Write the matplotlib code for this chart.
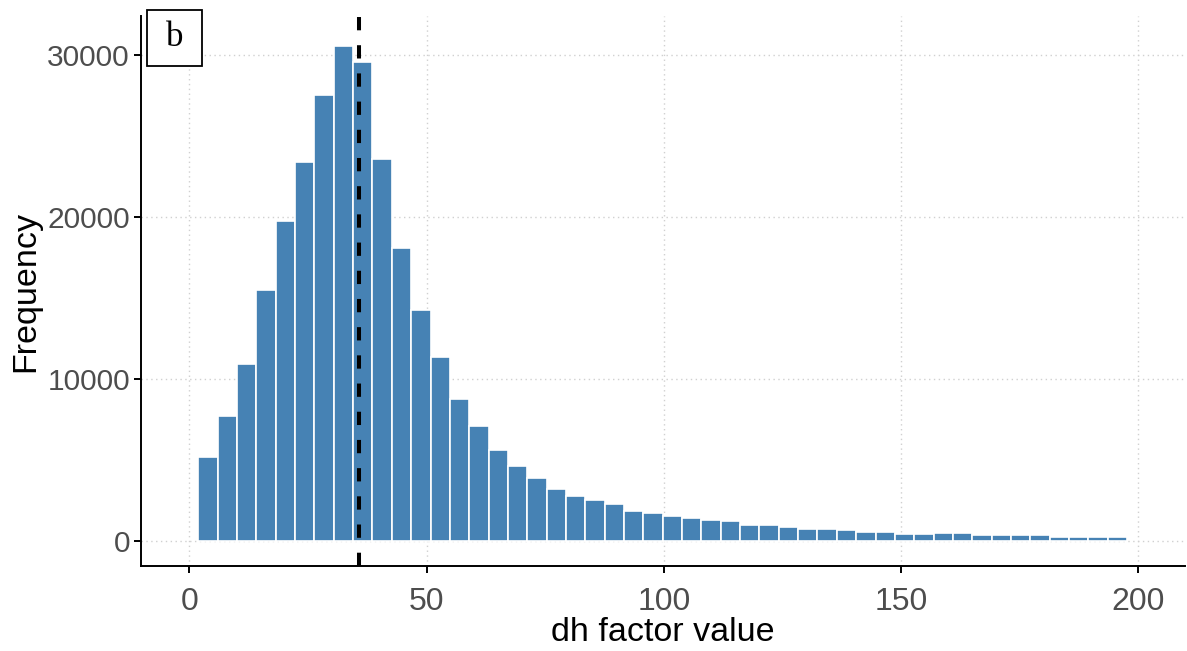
import numpy as np
import matplotlib
matplotlib.use("Agg")
import matplotlib.pyplot as plt
from matplotlib.patches import Rectangle

# Histogram of dh factor values (48 equal-width bins)
bin_start = 1.9
bin_width = 4.077
counts = [5200, 7700, 10950, 15480, 19720, 23380, 27500, 30520, 29560, 23580,
          18070, 14280, 11380, 8770, 7120, 5620, 4650, 3890, 3240, 2810,
          2510, 2280, 1850, 1750, 1520, 1400, 1300, 1210, 970, 970,
          890, 770, 770, 660, 560, 560, 460, 460, 480, 480,
          360, 370, 370, 380, 280, 270, 270, 270]
mean_value = 35.8

x_ticks = [0, 50, 100, 150, 200]
y_ticks = [0, 10000, 20000, 30000]
panel_tag = "b"

plt.rcParams["font.family"] = ["Liberation Sans", "DejaVu Sans"]

fig = plt.figure(figsize=(11.87, 6.51), dpi=100)
ax = fig.add_axes([141 / 1187, 85 / 651, 1044 / 1187, 550 / 651])

edges = bin_start + bin_width * np.arange(len(counts))
ax.bar(edges, counts, width=bin_width, align="edge", color="#4682B4",
       edgecolor="white", linewidth=1.2, zorder=2)

ax.axvline(mean_value, color="black", linewidth=2.9,
           linestyle=(0, (3.3, 3.7)), zorder=3)

ax.set_xlim(-10.18, 209.8)
ax.set_ylim(-1540, 32400)
ax.set_xticks(x_ticks)
ax.set_yticks(y_ticks)
ax.set_yticklabels([str(v) for v in y_ticks])

ax.grid(True, color="#d0d0d0", linestyle=(0, (1, 2.5)), linewidth=1.0, zorder=0)
ax.set_axisbelow(True)

for side in ("top", "right"):
    ax.spines[side].set_visible(False)
for side in ("left", "bottom"):
    ax.spines[side].set_linewidth(1.4)
    ax.spines[side].set_color("black")

ax.tick_params(axis="both", length=5, width=1.4, color="black",
               labelcolor="#4d4d4d")
ax.tick_params(axis="y", labelsize=21.5, pad=3)
ax.tick_params(axis="x", labelsize=23, pad=10)

ax.set_xlabel("dh factor value", fontsize=24.5, color="black", labelpad=0)
ax.set_ylabel("Frequency", fontsize=24.5, color="black", labelpad=4)

# panel tag in a boxed corner
fig.patches.append(Rectangle((147 / 1187, 1 - 66 / 651), 55 / 1187, 56 / 651,
                             transform=fig.transFigure, facecolor="white",
                             edgecolor="black", linewidth=1.3, zorder=5))
fig.text(174.5 / 1187, 1 - 38 / 651, panel_tag, ha="center", va="center",
         fontsize=25, family=["Liberation Serif", "DejaVu Serif"], zorder=6)

fig.savefig("out.png", dpi=100)
